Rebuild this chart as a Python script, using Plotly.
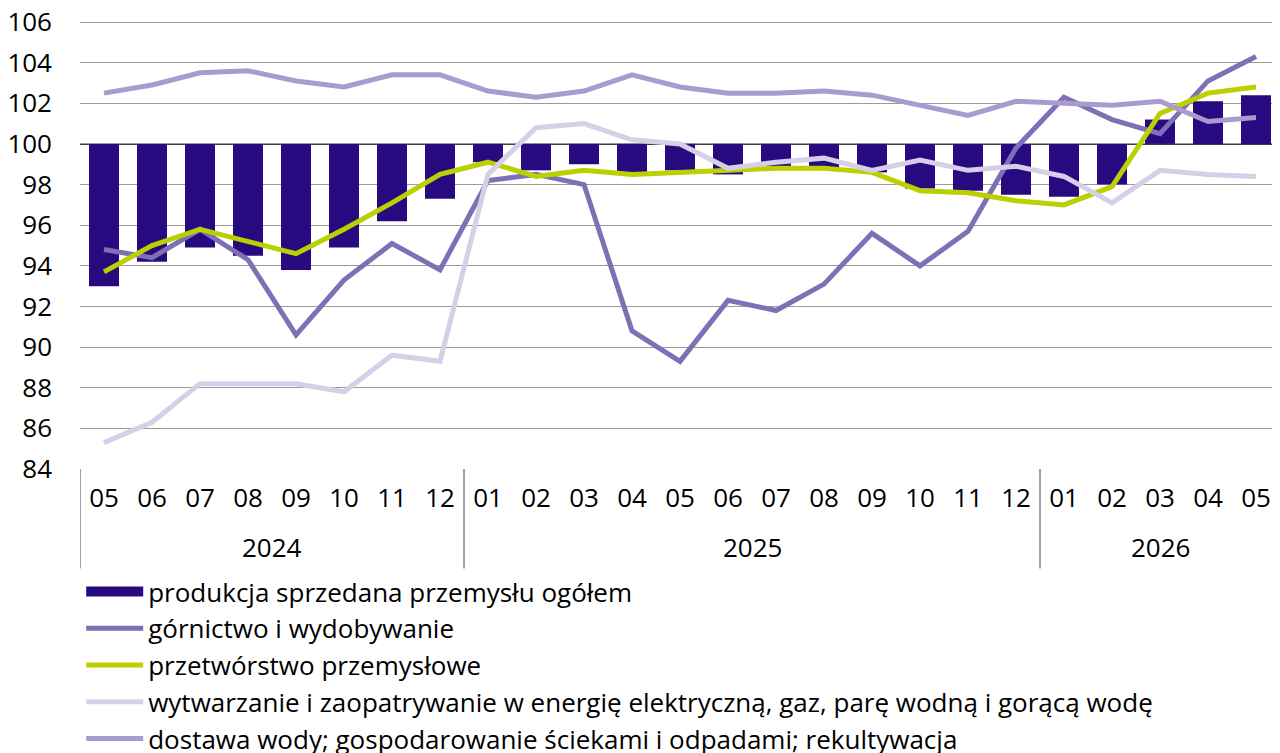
import plotly.graph_objects as go

years = ["2024"] * 8 + ["2025"] * 12 + ["2026"] * 5
months = ["05", "06", "07", "08", "09", "10", "11", "12",
          "01", "02", "03", "04", "05", "06", "07", "08", "09", "10", "11", "12",
          "01", "02", "03", "04", "05"]

ogolem = [93.0, 94.2, 94.9, 94.5, 93.8, 94.9, 96.2, 97.3,
          99.1, 98.7, 99.0, 98.6, 98.7, 98.5, 98.9, 98.8, 98.6, 97.8, 97.7, 97.5,
          97.4, 98.0, 101.2, 102.1, 102.4]
gornictwo = [94.8, 94.4, 95.8, 94.3, 90.6, 93.3, 95.1, 93.8,
             98.2, 98.5, 98.0, 90.8, 89.3, 92.3, 91.8, 93.1, 95.6, 94.0, 95.7, 99.8,
             102.3, 101.2, 100.5, 103.1, 104.3]
przetworstwo = [93.7, 95.0, 95.8, 95.2, 94.6, 95.8, 97.1, 98.5,
                99.1, 98.4, 98.7, 98.5, 98.6, 98.7, 98.8, 98.8, 98.6, 97.7, 97.6, 97.2,
                97.0, 97.9, 101.5, 102.5, 102.8]
energia = [85.3, 86.3, 88.2, 88.2, 88.2, 87.8, 89.6, 89.3,
           98.5, 100.8, 101.0, 100.2, 100.0, 98.8, 99.1, 99.3, 98.7, 99.2, 98.7, 98.9,
           98.4, 97.1, 98.7, 98.5, 98.4]
woda = [102.5, 102.9, 103.5, 103.6, 103.1, 102.8, 103.4, 103.4,
        102.6, 102.3, 102.6, 103.4, 102.8, 102.5, 102.5, 102.6, 102.4, 101.9, 101.4, 102.1,
        102.0, 101.9, 102.1, 101.1, 101.3]

names = ["produkcja sprzedana przemysłu ogółem",
         "górnictwo i wydobywanie",
         "przetwórstwo przemysłowe",
         "wytwarzanie i zaopatrywanie w energię elektryczną, gaz, parę wodną i gorącą wodę",
         "dostawa wody; gospodarowanie ściekami i odpadami; rekultywacja"]
y_ticks = [84, 86, 88, 90, 92, 94, 96, 98, 100, 102, 104, 106]

BASE = 100
FONT = "Open Sans, Liberation Sans, Arial, sans-serif"
BAR_COLOR = "#280a80"

x = [f"{y}-{m}" for y, m in zip(years, months)]

fig = go.Figure()
fig.add_trace(go.Bar(x=x, y=[v - BASE for v in ogolem], base=BASE, name=names[0],
                     marker=dict(color=BAR_COLOR, line=dict(width=0)), width=0.625,
                     showlegend=False, legendgroup="bar"))
# legend entry for bars (wide rectangle swatch)
fig.add_trace(go.Scatter(x=[None], y=[None], mode="lines", name=names[0], legendgroup="bar",
                         line=dict(color=BAR_COLOR, width=15)))
line_series = [(gornictwo, "#7f70b6"), (przetworstwo, "#bccf00"),
               (energia, "#d5d0e8"), (woda, "#a99bcd")]
for i, (vals, col) in enumerate(line_series):
    fig.add_trace(go.Scatter(x=x, y=vals, mode="lines", name=names[i + 1],
                             line=dict(color=col, width=5)))

fig.add_hline(y=BASE, line=dict(color="#000000", width=1.5), layer="below")

# year group labels and dividers
groups = []
for i, yv in enumerate(years):
    if not groups or groups[-1][0] != yv:
        groups.append([yv, i, i])
    else:
        groups[-1][2] = i
for yv, i0, i1 in groups:
    fig.add_annotation(x=(i0 + i1) / 2, y=-0.174, xref="x", yref="paper", text=yv,
                       showarrow=False, yanchor="middle", font=dict(size=26, family=FONT))
for yv, i0, i1 in groups:
    fig.add_shape(type="line", xref="x", yref="paper", x0=i0 - 0.5, x1=i0 - 0.5,
                  y0=0, y1=-0.222, line=dict(color="#444444", width=1))

# the page body adds an 8px margin; the figure is sized so the plot lands where the reference has it
fig.update_layout(
    width=1272, height=745,
    margin=dict(l=72, r=0, t=13, b=284, autoexpand=False),
    paper_bgcolor="white", plot_bgcolor="white",
    font=dict(family=FONT, size=26, color="#000000"),
    showlegend=True,
    legend=dict(orientation="v", x=0.001, xanchor="left", y=-0.221, yanchor="top",
                font=dict(size=26, family=FONT), tracegroupgap=0, itemwidth=57,
                bgcolor="rgba(0,0,0,0)"),
)
fig.update_yaxes(range=[84, 106.05], tickmode="array", tickvals=y_ticks,
                 showgrid=True, gridcolor="#9a9a9a", gridwidth=1,
                 zeroline=False, showline=False, ticks="", tickfont=dict(size=26),
                 ticklabelstandoff=27, ticklabeloverflow="allow", automargin=False)
fig.update_xaxes(type="category", range=[-0.5, len(x) - 0.5], tickvals=x, ticktext=months,
                 showgrid=False, showline=False, ticks="", tickfont=dict(size=26),
                 ticklabelstandoff=11, automargin=False)

fig.write_html("out.html")
